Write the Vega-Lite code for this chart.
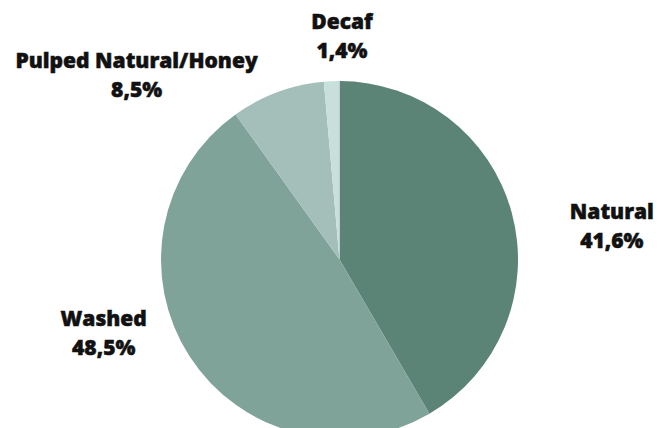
{
  "$schema": "https://vega.github.io/schema/vega-lite/v6.json",
  "autosize": "none",
  "padding": 0,
  "width": 679,
  "height": 519,
  "background": "white",
  "view": {"stroke": null},
  "config": {"text": {"font": "Open Sans", "fontWeight": 800, "fontSize": 21, "lineHeight": 29, "align": "center", "baseline": "middle", "color": "#111111", "stroke": "#111111", "strokeWidth": 0.5}},
  "data": {"values": [
    {"category": "Natural", "value": 41.6},
    {"category": "Washed", "value": 48.5},
    {"category": "Pulped Natural/Honey", "value": 8.5},
    {"category": "Decaf", "value": 1.4}
  ]},
  "transform": [
    {"calculate": "indexof(['Natural','Washed','Pulped Natural/Honey','Decaf'], datum.category)", "as": "ord"},
    {"window": [{"op": "sum", "field": "value", "as": "cum"}], "sort": [{"field": "ord"}]},
    {"calculate": "datum.cum - datum.value / 2", "as": "mid"},
    {"calculate": "[datum.category, replace(format(datum.value, '.1f'), '.', ',') + '%']", "as": "label"}
  ],
  "layer": [
    {
      "mark": {"type": "arc", "outerRadius": 178.5},
      "encoding": {
        "theta": {"field": "value", "type": "quantitative", "stack": true, "scale": {"domain": [0, 100]}},
        "order": {"field": "ord", "type": "quantitative"},
        "color": {
          "field": "category", "type": "nominal", "legend": null,
          "scale": {
            "domain": ["Natural", "Washed", "Pulped Natural/Honey", "Decaf"],
            "range": ["#5b8477", "#7fa299", "#a4bfba", "#c9dfdc"]
          }
        }
      }
    },
    {
      "transform": [{"filter": "datum.category == 'Natural'"}],
      "mark": {"type": "text", "radius": 250, "dx": 31, "dy": 19},
      "encoding": {
        "theta": {"field": "mid", "type": "quantitative", "stack": null, "scale": {"domain": [0, 100]}},
        "text": {"field": "label"}
      }
    },
    {
      "transform": [{"filter": "datum.category == 'Washed'"}],
      "mark": {"type": "text", "radius": 250, "dx": -26, "dy": -75},
      "encoding": {
        "theta": {"field": "mid", "type": "quantitative", "stack": null, "scale": {"domain": [0, 100]}},
        "text": {"field": "label"}
      }
    },
    {
      "transform": [{"filter": "datum.category == 'Pulped Natural/Honey'"}],
      "mark": {"type": "text", "radius": 250, "dx": -116, "dy": 37},
      "encoding": {
        "theta": {"field": "mid", "type": "quantitative", "stack": null, "scale": {"domain": [0, 100]}},
        "text": {"field": "label"}
      }
    },
    {
      "transform": [{"filter": "datum.category == 'Decaf'"}],
      "mark": {"type": "text", "radius": 250, "dx": 13.5, "dy": 13},
      "encoding": {
        "theta": {"field": "mid", "type": "quantitative", "stack": null, "scale": {"domain": [0, 100]}},
        "text": {"field": "label"}
      }
    }
  ],
  "resolve": {"scale": {"theta": "independent"}}
}
